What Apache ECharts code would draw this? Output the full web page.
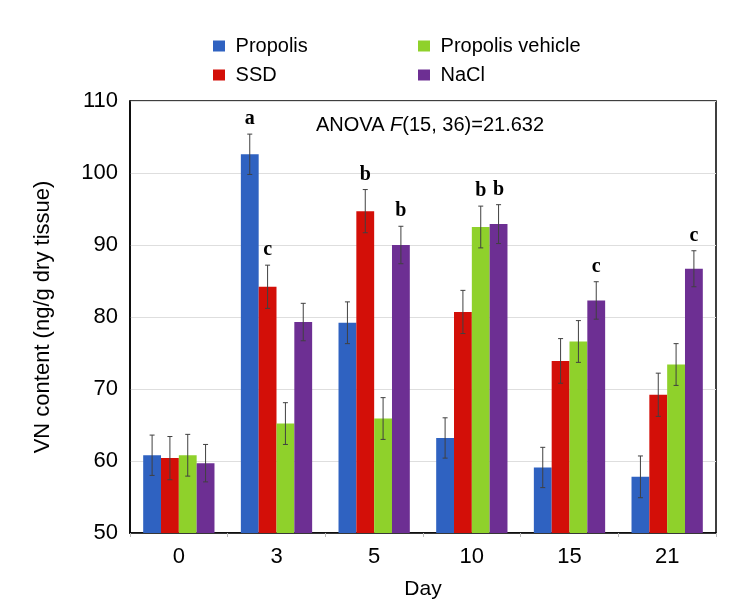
<!DOCTYPE html>
<html><head><meta charset="utf-8">
<script src="https://cdn.jsdelivr.net/npm/echarts@6/dist/echarts.min.js"></script>
<style>html,body{margin:0;padding:0;background:#fff}#c{width:752px;height:612px}</style>
</head><body><div id="c"></div>
<script>
var days = ['0', '3', '5', '10', '15', '21'];
var seriesNames = ['Propolis', 'SSD', 'Propolis vehicle', 'NaCl'];
var propolis = [60.8, 102.6, 79.2, 63.2, 59.1, 57.8];
var ssd = [60.4, 84.2, 94.7, 80.7, 73.9, 69.2];
var vehicle = [60.8, 65.2, 65.9, 92.5, 76.6, 73.4];
var nacl = [59.7, 79.3, 90.0, 92.9, 82.3, 86.7];
var propolisErr = [2.8, 2.8, 2.9, 2.8, 2.8, 2.9];
var ssdErr = [3.0, 3.0, 3.0, 3.0, 3.1, 3.0];
var vehicleErr = [2.9, 2.9, 2.9, 2.9, 2.9, 2.9];
var naclErr = [2.6, 2.6, 2.6, 2.7, 2.6, 2.5];
var propolisLetters = ['', 'a', '', '', '', ''];
var ssdLetters = ['', 'c', 'b', '', '', ''];
var vehicleLetters = ['', '', '', 'b', '', ''];
var naclLetters = ['', '', 'b', 'b', 'c', 'c'];
var yTicks = [50, 60, 70, 80, 90, 100, 110];

var values = [propolis, ssd, vehicle, nacl];
var errs = [propolisErr, ssdErr, vehicleErr, naclErr];
var letters = [propolisLetters, ssdLetters, vehicleLetters, naclLetters];
var colors = ['#2f62c1', '#d30f08', '#8fd12b', '#6d2f93'];
var catGap = 0.27;

var chart = echarts.init(document.getElementById('c'), null, {renderer: 'canvas'});
var series = [];
seriesNames.forEach(function (name, i) {
  series.push({
    name: name, type: 'bar', data: values[i], barGap: '0%', barCategoryGap: '27%',
    itemStyle: {color: colors[i]}, z: 2
  });
});
seriesNames.forEach(function (name, i) {
  var d = values[i].map(function (v, k) { return [k, v, errs[i][k], letters[i][k]]; });
  series.push({
    type: 'custom', name: name + ' err', data: d, z: 5, silent: true,
    renderItem: function (params, api) {
      var k = api.value(0), v = api.value(1), e = api.value(2);
      var band = api.size([1, 0])[0];
      var bw = band * (1 - catGap) / 4;
      var cx = api.coord([k, v])[0] + (i - 1.5) * bw;
      var yTop = api.coord([k, v + e])[1];
      var yBot = api.coord([k, v - e])[1];
      var cap = 2.5;
      var st = {stroke: '#404040', lineWidth: 1};
      var children = [
        {type: 'line', shape: {x1: cx, y1: yTop, x2: cx, y2: yBot}, style: st},
        {type: 'line', shape: {x1: cx - cap, y1: yTop, x2: cx + cap, y2: yTop}, style: st},
        {type: 'line', shape: {x1: cx - cap, y1: yBot, x2: cx + cap, y2: yBot}, style: st}
      ];
      var lab = letters[i][params.dataIndex];
      if (lab) {
        children.push({type: 'text', style: {
          text: lab, x: cx, y: yTop - 5, align: 'center', verticalAlign: 'bottom',
          font: 'bold 20px "Liberation Serif"', fill: '#000'
        }});
      }
      return {type: 'group', children: children};
    }
  });
});

chart.setOption({
  animation: false,
  backgroundColor: '#fff',
  textStyle: {fontFamily: 'Liberation Sans'},
  title: {
    text: 'ANOVA {i|F}(15, 36)=21.632',
    left: 311, top: 110,
    textStyle: {fontFamily: 'Liberation Sans', fontSize: 20, fontWeight: 'normal', color: '#000',
      rich: {i: {fontStyle: 'italic', fontFamily: 'Liberation Sans', fontSize: 20, color: '#000'}}}
  },
  legend: [{
    data: ['Propolis', 'SSD'], orient: 'vertical', left: 208, top: 31,
    itemWidth: 12, itemHeight: 11, itemGap: 9, icon: 'rect',
    formatter: function (n) { return ' ' + n; },
    textStyle: {fontSize: 20, color: '#000', fontFamily: 'Liberation Sans'}
  }, {
    data: ['Propolis vehicle', 'NaCl'], orient: 'vertical', left: 413, top: 31,
    itemWidth: 12, itemHeight: 11, itemGap: 9, icon: 'rect',
    formatter: function (n) { return ' ' + n; },
    textStyle: {fontSize: 20, color: '#000', fontFamily: 'Liberation Sans'}
  }],
  grid: {left: 130, right: 36, top: 101, bottom: 79, show: true, borderColor: '#000', borderWidth: 1.5, backgroundColor: 'transparent'},
  xAxis: {
    type: 'category', data: days,
    name: 'Day', nameLocation: 'middle', nameGap: 46,
    nameTextStyle: {fontSize: 21, color: '#000', fontFamily: 'Liberation Sans'},
    axisLine: {show: true, lineStyle: {color: '#000', width: 1.5}},
    axisTick: {show: true, alignWithLabel: false, length: 4, lineStyle: {color: '#bbb'}},
    axisLabel: {fontSize: 22, color: '#000', margin: 13, fontFamily: 'Liberation Sans'}
  },
  yAxis: {
    type: 'value', min: 50, max: 110, interval: 10,
    name: 'VN content (ng/g dry tissue)', nameLocation: 'middle', nameGap: 76,
    nameTextStyle: {fontSize: 22, color: '#000', fontFamily: 'Liberation Sans'},
    axisLine: {show: true, lineStyle: {color: '#000', width: 1.5}},
    axisTick: {show: false},
    axisLabel: {fontSize: 22, color: '#000', margin: 12, fontFamily: 'Liberation Sans',
      formatter: function (v) { return yTicks.indexOf(v) >= 0 ? String(v) : ''; }},
    splitLine: {show: true, lineStyle: {color: '#dedede', width: 1}}
  },
  series: series
});
</script></body></html>
